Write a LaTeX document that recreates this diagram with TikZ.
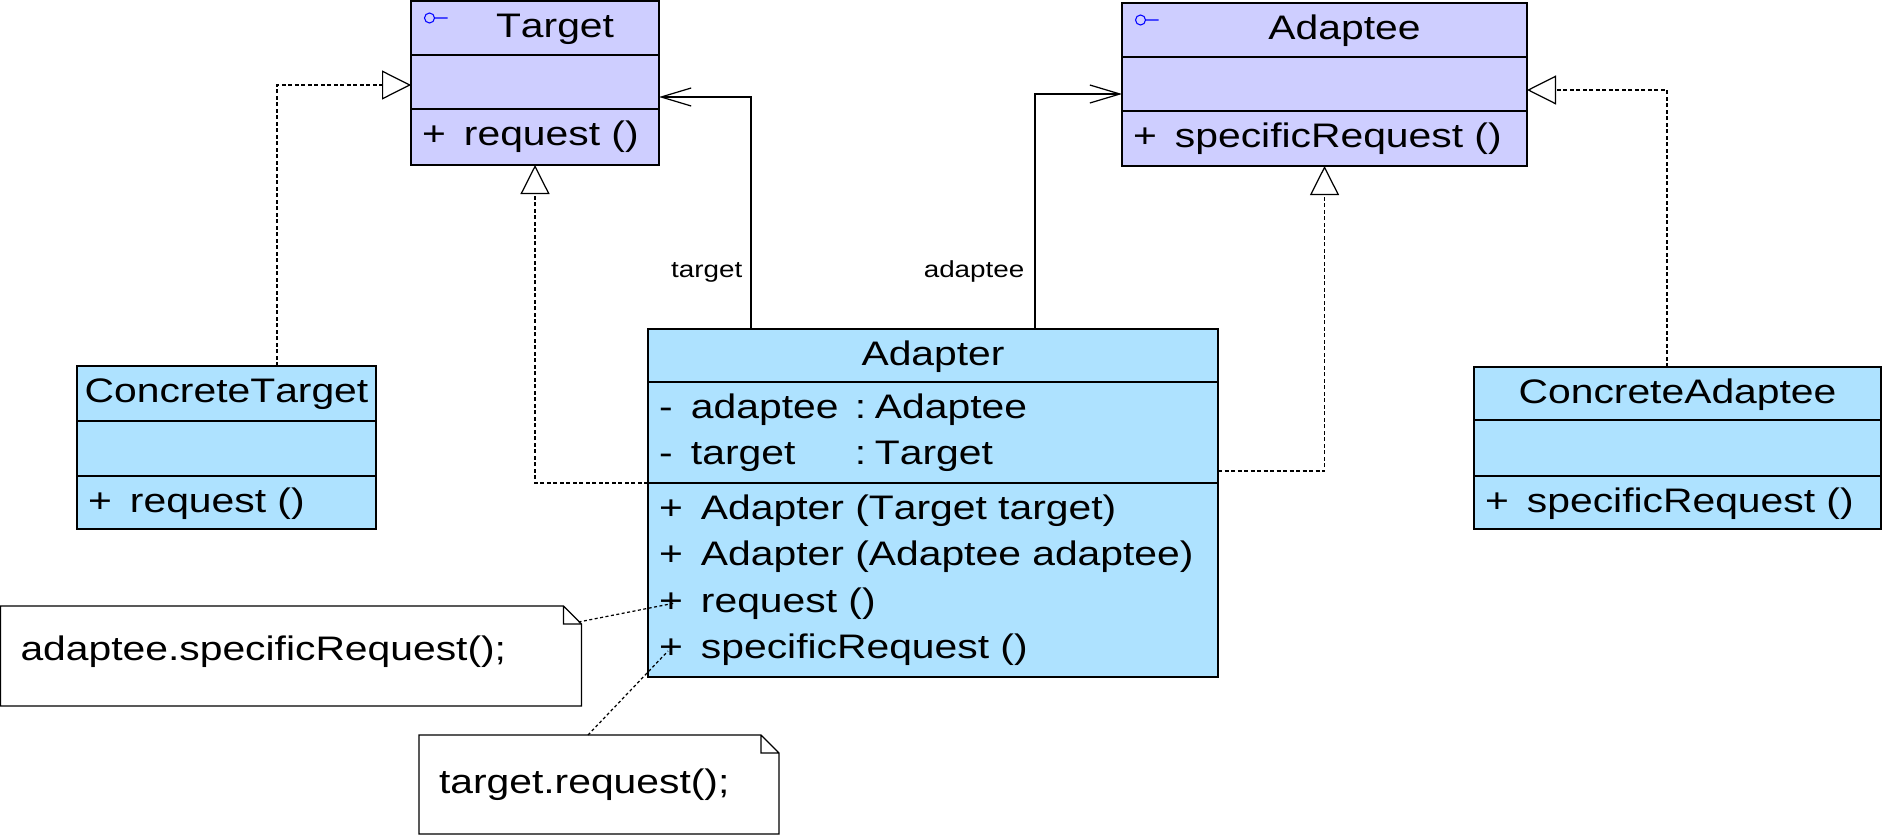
\documentclass[tikz,border=0pt]{standalone}
\usepackage{fontspec}
\setmainfont[FakeStretch=1.2,Kerning=Off]{Liberation Sans}
\usetikzlibrary{arrows.meta,positioning,calc}
\definecolor{ifc}{RGB}{206,206,255}
\definecolor{clc}{RGB}{174,226,255}
\newcommand\mop[1]{\makebox[0.42cm][l]{+}#1}
\newcommand\mattr[2]{\makebox[0.32cm][l]{-}\makebox[1.64cm][l]{#1}\makebox[0.2cm][l]{:}#2}

\begin{document}
\begin{tikzpicture}[>=Stealth,line width=0.35pt,font=\fontsize{9.68pt}{13.17pt}\selectfont,
  hd/.style={draw,fill=#1,inner sep=0pt,outer sep=0pt,text height=0.365cm},
  mb/.style={draw,fill=#1,inner xsep=0.11cm,inner ysep=0pt,outer sep=0pt,text height=0.365cm,align=left},
  nt/.style={inner xsep=0.2cm,inner ysep=0pt,outer sep=0pt,anchor=north west,align=left},
  re/.style={dash pattern=on 0.04cm off 0.025cm,-{Triangle[open,length=0.29cm,width=0.29cm]}},
  as/.style={-{Straight Barb[length=0.3cm,width=0.18cm]}},
  nl/.style={dash pattern=on 0.03cm off 0.025cm},
  lb/.style={font=\fontsize{6.6pt}{8pt}\selectfont,anchor=base east,inner sep=0pt}]
\useasboundingbox (0,0) rectangle (18.83,8.39);
% Target
\node[hd=ifc,anchor=north west,minimum width=2.48cm,text depth=0.175cm] (tgt) at (4.11,8.38) {\hspace{0.4cm}Target};
\node[mb=ifc,below=0pt of tgt,text width=2.26cm,text depth=0.175cm] (tgt-a) {};
\node[mb=ifc,below=0pt of tgt-a,text width=2.26cm,text depth=0.195cm] (tgt-o) {\mop{request ()}};
% Adaptee
\node[hd=ifc,anchor=north west,minimum width=4.05cm,text depth=0.175cm] (ade) at (11.22,8.36) {\hspace{0.4cm}Adaptee};
\node[mb=ifc,below=0pt of ade,text width=3.83cm,text depth=0.175cm] (ade-a) {};
\node[mb=ifc,below=0pt of ade-a,text width=3.83cm,text depth=0.185cm] (ade-o) {\mop{specificRequest ()}};
% Adapter
\node[hd=clc,anchor=north west,minimum width=5.70cm,text depth=0.165cm] (ad) at (6.48,5.10) {Adapter};
\node[mb=clc,below=0pt of ad,text width=5.48cm,text depth=0.645cm] (ad-a) {\mattr{adaptee}{Adaptee}\\\mattr{target}{Target}};
\node[mb=clc,below=0pt of ad-a,text width=5.48cm,text depth=1.575cm] (ad-o) {\mop{Adapter (Target target)}\\\mop{Adapter (Adaptee adaptee)}\\\mop{request ()}\\\mop{specificRequest ()}};
% ConcreteTarget
\node[hd=clc,anchor=north west,minimum width=2.99cm,text depth=0.185cm] (ct) at (0.77,4.73) {ConcreteTarget};
\node[mb=clc,below=0pt of ct,text width=2.77cm,text depth=0.185cm] (ct-a) {};
\node[mb=clc,below=0pt of ct-a,text width=2.77cm,text depth=0.165cm] (ct-o) {\mop{request ()}};
% ConcreteAdaptee
\node[hd=clc,anchor=north west,minimum width=4.07cm,text depth=0.165cm] (ca) at (14.74,4.72) {ConcreteAdaptee};
\node[mb=clc,below=0pt of ca,text width=3.85cm,text depth=0.195cm] (ca-a) {};
\node[mb=clc,below=0pt of ca-a,text width=3.85cm,text depth=0.165cm] (ca-o) {\mop{specificRequest ()}};
% notes
\node[nt,text width=5.41cm,text height=0.54cm,text depth=0.46cm] (n1) at (0.005,2.33) {adaptee.specificRequest();};
\node[nt,text width=3.2cm,text height=0.58cm,text depth=0.41cm] (n2) at (4.19,1.04) {target.request();};
\foreach \n in {n1,n2}
  \draw (\n.north west) -- ([xshift=-0.18cm]\n.north east) -- ([yshift=-0.18cm]\n.north east) -- (\n.south east) -- (\n.south west) -- cycle
        ([xshift=-0.18cm]\n.north east) |- ([yshift=-0.18cm]\n.north east);
% interface marks
\foreach \c in {tgt,ade}
  \draw[blue,line width=0.3pt] ([shift={(0.185,-0.17)}]\c.north west) circle (0.05) ++(0.05,0) -- ++(0.13,0);
% realizations
\draw[re] ([xshift=0.505cm]ct.north) |- ([yshift=-0.03cm]tgt-a.west);
\draw[re] (ad-o.north west) -| (tgt-o.south);
\draw[re] ([yshift=0.12cm]ad-o.north east) -| (ade-o.south);
\draw[re] ([xshift=-0.105cm]ca.north) |- ([yshift=-0.06cm]ade-a.east);
% associations
\draw[as] ([xshift=1.03cm]ad.north west) |- node[lb,pos=0.11,xshift=-0.08cm] {target} ([yshift=-0.15cm]tgt-a.east);
\draw[as] ([xshift=3.87cm]ad.north west) |- node[lb,pos=0.11,xshift=-0.10cm] {adaptee} ([yshift=-0.10cm]ade-a.west);
% note links
\coordinate (req) at ([shift={(0.27,-1.20)}]ad-o.north west);
\coordinate (sreq) at ([shift={(0.20,-1.68)}]ad-o.north west);
\draw[nl] ([xshift=-0.03cm,yshift=-0.16cm]n1.north east) -- (req);
\draw[nl] ([xshift=-0.11cm]n2.north) -- (sreq);
\end{tikzpicture}
\end{document}
